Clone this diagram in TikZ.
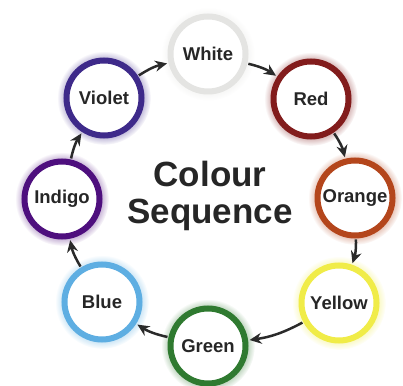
\documentclass[tikz,border=0pt]{standalone}
\usepackage{fontspec}
\setmainfont{Liberation Sans}
\usepackage{tikz}
\usetikzlibrary{arrows.meta, positioning, shadows}

\definecolor{ringwhite}{HTML}{E4E4E2}
\definecolor{ringred}{HTML}{821C1C}
\definecolor{ringorange}{HTML}{B4461C}
\definecolor{ringyellow}{HTML}{F0EC48}
\definecolor{ringgreen}{HTML}{2F7A30}
\definecolor{ringblue}{HTML}{5EAEE2}
\definecolor{ringindigo}{HTML}{4E0F7E}
\definecolor{ringviolet}{HTML}{3E2A8A}
\definecolor{labelgray}{HTML}{262626}
\definecolor{arrowgray}{HTML}{2A2A2A}

\begin{document}
\begin{tikzpicture}[
  x=1pt, y=1pt,
  colring/.style={circle, draw=#1, line width=6pt, fill=white,
    minimum size=75pt, inner sep=0pt, text=labelgray,
    font=\bfseries\fontsize{18.5}{20}\selectfont,
    circular glow={fill=#1!30}},
  seqarrow/.style={-{Stealth[length=12pt,width=11pt,inset=4pt]},
    line width=2.5pt, draw=arrowgray, shorten >=1.5pt, shorten <=1pt}
]
\useasboundingbox (0,0) rectangle (403,385);
% colour rings, clockwise from the top
\node[colring=ringwhite]  (white)  at (208,331) {White};
\node[colring=ringred]    (red)    at (311,286) {Red};
\node[colring=ringorange] (orange) at (355,187) {Orange};
\node[colring=ringyellow] (yellow) at (339,82)  {Yellow};
\node[colring=ringgreen]  (green)  at (208,39)  {Green};
\node[colring=ringblue]   (blue)   at (102,83)  {Blue};
\node[colring=ringindigo] (indigo) at (62,186)  {Indigo};
\node[colring=ringviolet] (violet) at (104,287) {Violet};
% title in the middle
\node[text=labelgray, align=center, font=\bfseries\fontsize{35}{37}\selectfont]
  (title) at (210,189) {Colour\\Sequence};
% arrows
\foreach \a/\b in {white/red, red/orange, orange/yellow, yellow/green,
  green/blue, blue/indigo, indigo/violet, violet/white}
  \draw[seqarrow] (\a) to[bend left=10] (\b);
\end{tikzpicture}
\end{document}
